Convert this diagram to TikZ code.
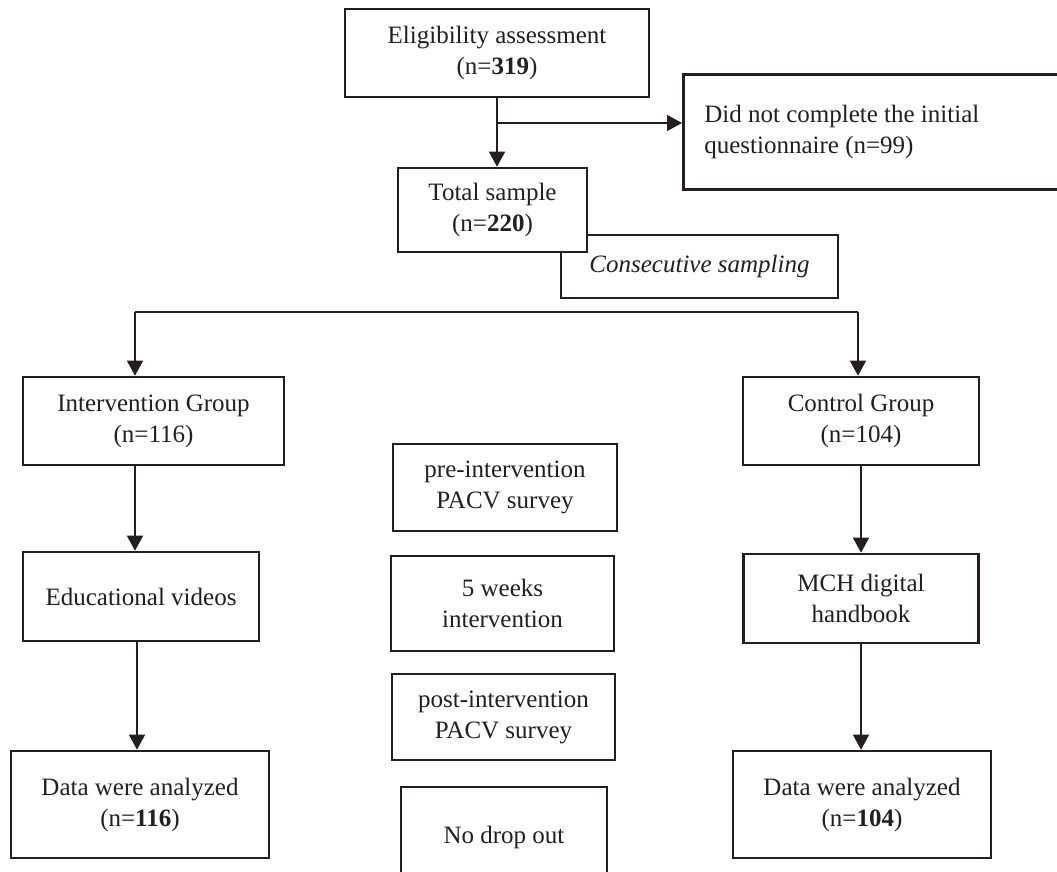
\documentclass[tikz,border=0pt]{standalone}
\usepackage{fontspec}
\setmainfont{Liberation Serif}
\usetikzlibrary{arrows.meta}
\definecolor{ink}{HTML}{231F20}
\begin{document}
\begin{tikzpicture}[x=1pt,y=-1pt,
  box/.style={draw=ink, line width=2.6pt, fill=white, align=center, inner sep=0pt,
    font=\fontsize{25}{31}\selectfont, text=ink},
  arr/.style={draw=ink, line width=1.4pt, -{Triangle[length=15pt,width=16pt]}},
  ln/.style={draw=ink, line width=1.4pt}]
\path[use as bounding box, clip] (0,0) rectangle (1057,871);
% top
\node[box, minimum width=304, minimum height=88] (elig) at (497,53) {Eligibility assessment\\(n=\textbf{319})};
\node[box, minimum width=400, minimum height=115, align=flush left, text width=358, inner xsep=21pt, anchor=north west] (dnc) at (682,73) {\raisebox{-3pt}{\parbox{358pt}{Did not complete the initial\\questionnaire (n=99)}}};
\node[box, minimum width=277, minimum height=63, font=\fontsize{25}{31}\selectfont\itshape] (consec) at (699.5,266.5) {Consecutive sampling};
\node[box, minimum width=189, minimum height=84] (total) at (492.5,210) {Total sample\\(n=\textbf{220})};
\coordinate (branch) at (497,123);
\draw[arr] (elig.south -| branch) -- (total.north -| branch);
\draw[arr] (branch) -- (dnc.west |- branch);
% split
\coordinate (sl) at (135,312);
\coordinate (sr) at (858,312);
\node[box, minimum width=261, minimum height=88] (intv) at (153.5,421) {Intervention Group\\(n=116)};
\node[box, minimum width=236, minimum height=88] (ctrl) at (861,421) {Control Group\\(n=104)};
\draw[ln] (sl) -- (sr);
\draw[arr] (sl) -- (sl |- intv.north);
\draw[arr] (sr) -- (sr |- ctrl.north);
% left column
\node[box, minimum width=236, minimum height=89] (edu) at (141,596.5) {Educational videos};
\node[box, minimum width=258, minimum height=107] (data1) at (140,804.5) {Data were analyzed\\(n=\textbf{116})};
\draw[arr] (sl |- intv.south) -- (sl |- edu.north);
\coordinate (e1) at (137,641);
\draw[arr] (e1 |- edu.south) -- (e1 |- data1.north);
% right column
\node[box, minimum width=235, minimum height=89] (mch) at (861,598.5) {MCH digital\\handbook};
\node[box, minimum width=258, minimum height=107] (data2) at (862,804.5) {Data were analyzed\\(n=\textbf{104})};
\draw[arr] (ctrl.south) -- (ctrl.south |- mch.north);
\draw[arr] (mch.south) -- (mch.south |- data2.north);
% middle
\node[box, minimum width=224, minimum height=87] (pre) at (505,487.5) {pre-intervention\\PACV survey};
\node[box, minimum width=223, minimum height=95] (weeks) at (502.5,603.5) {5 weeks\\intervention};
\node[box, minimum width=223, minimum height=86] (post) at (503.5,717) {post-intervention\\PACV survey};
\node[box, minimum width=206, minimum height=100] (nodrop) at (504,837) {No drop out};
\end{tikzpicture}
\end{document}
